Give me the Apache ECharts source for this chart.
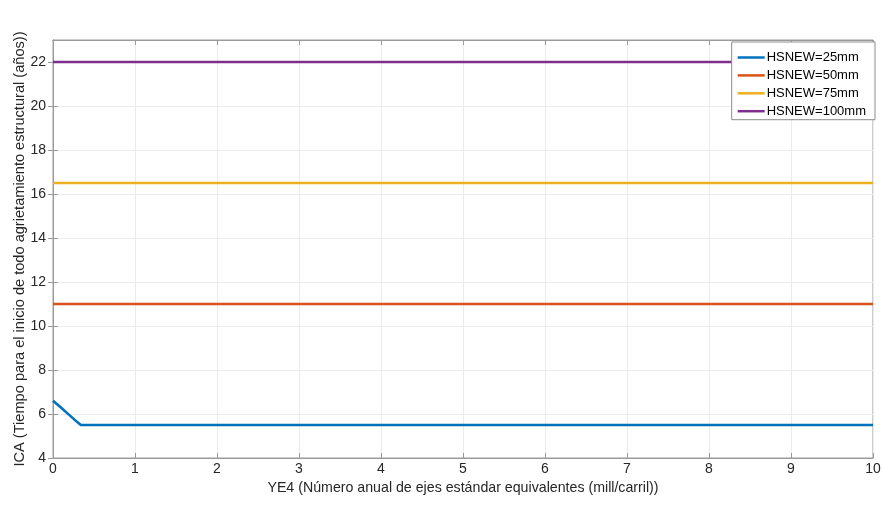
<!DOCTYPE html>
<html><head><meta charset="utf-8">
<script src="https://cdn.jsdelivr.net/npm/echarts@6/dist/echarts.min.js"></script>
<style>html,body{margin:0;padding:0;background:#fff}#c{width:883px;height:506px}</style>
</head><body><div id="c"></div>
<script>
const seriesNames = ['HSNEW=25mm','HSNEW=50mm','HSNEW=75mm','HSNEW=100mm'];
const xs25 = [0, 0.1, 0.2, 0.3, 0.34, 1, 2, 3, 4, 5, 6, 7, 8, 9, 10];
const ys25 = [6.6, 6.28, 5.95, 5.62, 5.5, 5.5, 5.5, 5.5, 5.5, 5.5, 5.5, 5.5, 5.5, 5.5, 5.5];
const xsFlat = [0, 10];
const ys50 = [11, 11];
const ys75 = [16.5, 16.5];
const ys100 = [22, 22];
const colors = ['#0072BD','#D95319','#EDB120','#7E2F8E'];
const xTicks = [0,1,2,3,4,5,6,7,8,9,10];
const yTicks = [4,6,8,10,12,14,16,18,20,22];

const zip = (a,b)=>a.map((v,i)=>[v,b[i]]);
const data = [zip(xs25,ys25), zip(xsFlat,ys50), zip(xsFlat,ys75), zip(xsFlat,ys100)];
const font = 'Liberation Sans, Arial, sans-serif';
const frame = '#9a9a9a';
const chart = echarts.init(document.getElementById('c'));
const axisLine = {show:true, lineStyle:{color:frame, width:1}};
const tickX = {show:true, inside:true, length:5, lineStyle:{color:frame}};
const tickY = {show:true, inside:false, length:5, lineStyle:{color:frame}};
chart.setOption({
  animation:false,
  color: colors,
  grid:{left:53, right:10, top:40, bottom:48, show:true, borderColor:frame, borderWidth:1,
        containLabel:false, outerBoundsMode:'none'},
  xAxis:[{
    type:'value', min:0, max:10, interval:1,
    axisLine, axisTick:tickX,
    axisLabel:{color:'#262626', fontSize:14, fontFamily:font, margin:4},
    splitLine:{show:true, lineStyle:{color:'#ebebeb', width:1}},
    name:'YE4 (Número anual de ejes estándar equivalentes (mill/carril))',
    nameLocation:'middle', nameGap:23, nameMoveOverlap:false,
    nameTextStyle:{color:'#262626', fontSize:14.2, fontFamily:font}
  },{
    type:'value', min:0, max:10, interval:1, position:'top',
    axisLine, axisTick:tickX,
    axisLabel:{show:false}, splitLine:{show:false}
  }],
  yAxis:[{
    type:'value', min:4, max:23, interval:2,
    axisLine, axisTick:tickY,
    axisLabel:{color:'#262626', fontSize:14, fontFamily:font, margin:7, showMaxLabel:false,
      formatter:v=> yTicks.includes(v)? String(v):''},
    splitLine:{show:true, lineStyle:{color:'#ebebeb', width:1}},
    name:'ICA (Tiempo para el inicio de todo agrietamiento estructural (años))',
    nameLocation:'middle', nameGap:26, nameMoveOverlap:false,
    nameTextStyle:{color:'#262626', fontSize:14.6, fontFamily:font}
  },{
    type:'value', min:4, max:23, interval:2, position:'right',
    axisLine, axisTick:tickY,
    axisLabel:{show:false}, splitLine:{show:false}
  }],
  legend:{
    orient:'vertical', right:8, top:42,
    data: seriesNames,
    icon:'rect', itemWidth:27, itemHeight:2.5, itemGap:4.9,
    padding:[9,9,2,6],
    backgroundColor:'#fff', borderColor:'#8c8c8c', borderWidth:1, borderRadius:0,
    textStyle:{color:'#000', fontSize:13, fontFamily:font, padding:[0,0,0,-3]}
  },
  series: seriesNames.map((n,i)=>({
    name:n, type:'line', data:data[i], showSymbol:false, symbol:'none',
    lineStyle:{width:2.6, color:colors[i]}, itemStyle:{color:colors[i]}
  }))
});
</script></body></html>
